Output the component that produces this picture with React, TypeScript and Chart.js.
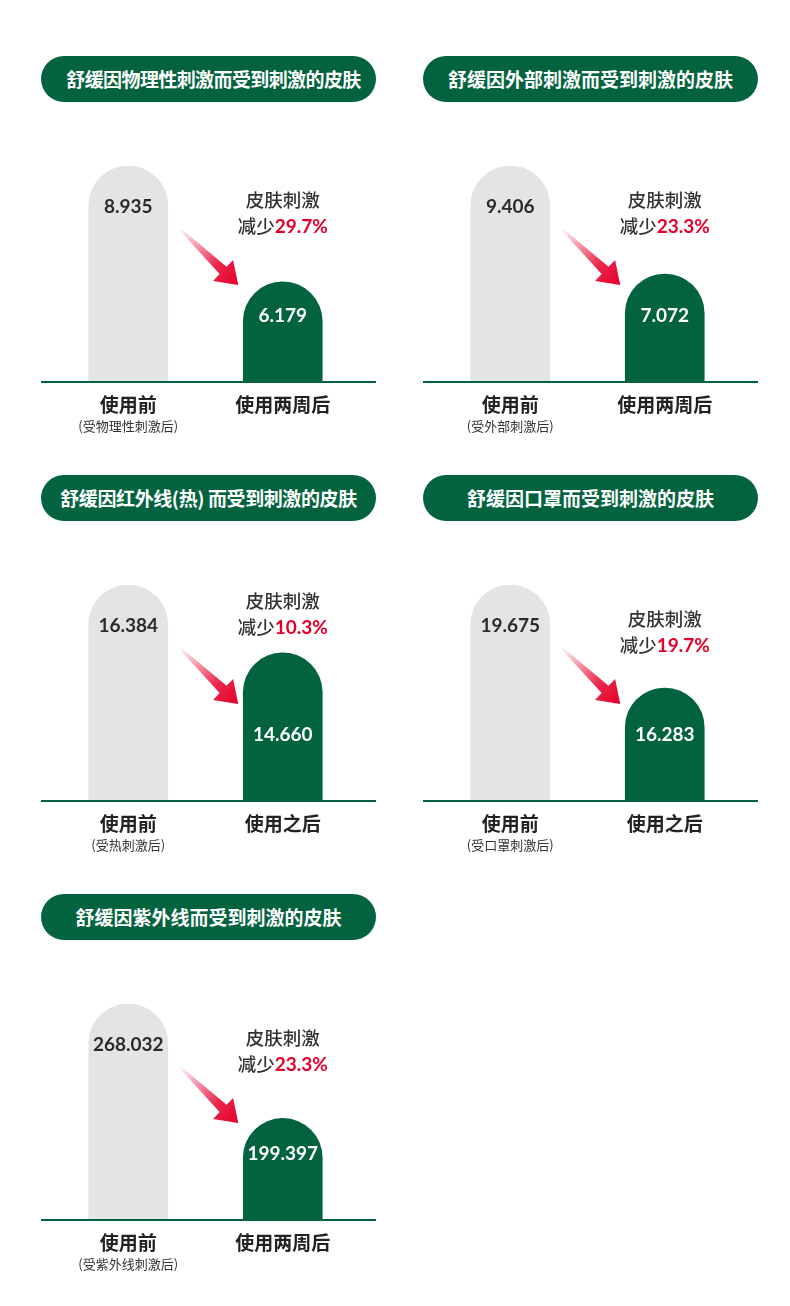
import React, { useEffect, useRef } from 'react';
import { Chart, registerables } from 'chart.js';

Chart.register(...registerables);

// chart values
const titles = [
  '舒缓因物理性刺激而受到刺激的皮肤',
  '舒缓因外部刺激而受到刺激的皮肤',
  '舒缓因红外线(热) 而受到刺激的皮肤',
  '舒缓因口罩而受到刺激的皮肤',
  '舒缓因紫外线而受到刺激的皮肤',
];
const beforeLabel = '使用前';
const beforeNotes = ['(受物理性刺激后)', '(受外部刺激后)', '(受热刺激后)', '(受口罩刺激后)', '(受紫外线刺激后)'];
const afterLabels = ['使用两周后', '使用两周后', '使用之后', '使用之后', '使用两周后'];
const beforeValues = [8.935, 9.406, 16.384, 19.675, 268.032];
const afterValues = [6.179, 7.072, 14.66, 16.283, 199.397];
const reductions = ['29.7%', '23.3%', '10.3%', '19.7%', '23.3%'];
// the bars do not start at zero in the picture
const axisMin = [3.8, 4.74, 10.9, 12.56, 138.5];

const GREEN = '#04633f';
const GRAY = '#e4e4e4';
const RED = '#e5002b';
const CJK = '"Noto Sans CJK SC", "Noto Sans", sans-serif';

const panelPlugin = (i: number) => ({
  id: 'panel' + i,
  afterDatasetsDraw(chart: any) {
    const { ctx, chartArea } = chart;
    const [g, r] = chart.getDatasetMeta(0).data as any[];
    const bottom = chartArea.bottom;
    ctx.save();

    // baseline
    ctx.fillStyle = GREEN;
    ctx.fillRect(0, bottom - 1, chart.width, 2);

    // values inside the bars
    ctx.textAlign = 'center';
    ctx.textBaseline = 'middle';
    ctx.font = 'bold 19px Lato';
    ctx.fillStyle = '#2b2b2b';
    ctx.fillText(beforeValues[i].toFixed(3), g.x, g.y + 41);
    ctx.fillStyle = '#ffffff';
    ctx.fillText(afterValues[i].toFixed(3), r.x, bottom - 66);

    // reduction note, kept clear of the green bar
    const y2 = Math.min(g.y + 60, r.y - 26);
    const y1 = y2 - 26;
    ctx.font = `500 18.5px ${CJK}`;
    ctx.fillStyle = '#333';
    ctx.fillText('皮肤刺激', r.x, y1);
    const part1 = '减少';
    const w1 = ctx.measureText(part1).width;
    ctx.font = 'bold 19px Lato';
    const w2 = ctx.measureText(reductions[i]).width;
    const sx = r.x - (w1 + w2) / 2;
    ctx.textAlign = 'left';
    ctx.font = `500 18.5px ${CJK}`;
    ctx.fillStyle = '#333';
    ctx.fillText(part1, sx, y2);
    ctx.font = 'bold 19px Lato';
    ctx.fillStyle = RED;
    ctx.fillText(reductions[i], sx + w1, y2 + 1);

    // arrow
    const tx = g.x + g.width / 2 + 11, ty = g.y + 62;
    const hx = r.x - r.width / 2 - 5, hy = g.y + 119;
    const len = Math.hypot(hx - tx, hy - ty);
    const ux = (hx - tx) / len, uy = (hy - ty) / len;
    const px = -uy, py = ux;
    const nx = hx - ux * 21, ny = hy - uy * 21;
    const grad = ctx.createLinearGradient(tx, ty, hx, hy);
    grad.addColorStop(0, 'rgba(229,0,43,0)');
    grad.addColorStop(0.65, 'rgba(229,0,43,0.85)');
    grad.addColorStop(1, RED);
    ctx.fillStyle = grad;
    ctx.beginPath();
    ctx.moveTo(tx + px * 1, ty + py * 1);
    ctx.lineTo(nx + px * 5, ny + py * 5);
    ctx.lineTo(nx + px * 14.5, ny + py * 14.5);
    ctx.lineTo(hx, hy);
    ctx.lineTo(nx - px * 14.5, ny - py * 14.5);
    ctx.lineTo(nx - px * 5, ny - py * 5);
    ctx.lineTo(tx - px * 1, ty - py * 1);
    ctx.closePath();
    ctx.fill();

    // category labels
    ctx.textAlign = 'center';
    ctx.font = `bold 19px ${CJK}`;
    ctx.fillStyle = '#222';
    ctx.fillText(beforeLabel, g.x, bottom + 23);
    ctx.fillText(afterLabels[i], r.x, bottom + 23);
    ctx.font = `13px ${CJK}`;
    ctx.fillStyle = '#333';
    ctx.fillText(beforeNotes[i], g.x, bottom + 44);

    ctx.restore();
  },
});

const Panel: React.FC<{ index: number }> = ({ index }) => {
  const canvasRef = useRef<HTMLCanvasElement>(null);

  useEffect(() => {
    if (!canvasRef.current) return;
    const chart = new Chart(canvasRef.current, {
      type: 'bar',
      data: {
        labels: [beforeLabel, afterLabels[index]],
        datasets: [
          {
            data: [beforeValues[index], afterValues[index]],
            backgroundColor: [GRAY, GREEN],
            borderRadius: 40,
            borderSkipped: 'bottom',
            barThickness: 79,
          },
        ],
      },
      options: {
        animation: false,
        responsive: true,
        maintainAspectRatio: false,
        layout: { padding: { top: 50, bottom: 64, left: 10, right: 16 } },
        scales: {
          x: { display: false },
          y: { display: false, min: axisMin[index], max: beforeValues[index] },
        },
        plugins: { legend: { display: false }, tooltip: { enabled: false } },
      },
      plugins: [panelPlugin(index)],
    });
    return () => chart.destroy();
  }, [index]);

  const col = index % 2;
  const row = Math.floor(index / 2);
  const left = col ? 423 : 41;
  const top = 56 + row * 419;

  return (
    <div style={{ position: 'absolute', left, top, width: 335 }}>
      <div
        style={{
          height: 46,
          lineHeight: '46px',
          borderRadius: 23,
          background: GREEN,
          color: '#fff',
          textAlign: 'center',
          fontFamily: CJK,
          fontWeight: 700,
          fontSize: 19,
          whiteSpace: 'pre',
          paddingLeft: index === 0 ? 10 : 0,
          letterSpacing: index === 0 ? -0.6 : index === 2 ? -0.4 : 0,
        }}
      >
        {titles[index]}
      </div>
      <div style={{ position: 'absolute', top: 60, left: 0, width: 335, height: 330 }}>
        <canvas ref={canvasRef}></canvas>
      </div>
    </div>
  );
};

export default function App() {
  return (
    <div style={{ position: 'absolute', left: 0, top: 0, width: 790, height: 1306, background: '#fff' }}>
      {titles.map((_, i) => (
        <Panel key={i} index={i} />
      ))}
    </div>
  );
}
